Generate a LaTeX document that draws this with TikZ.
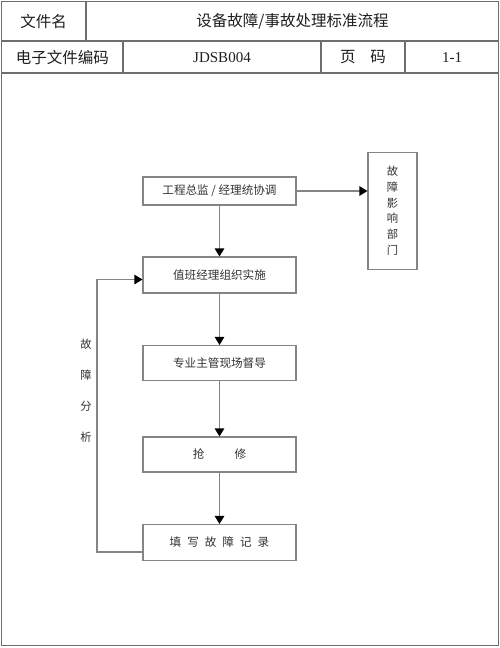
\documentclass[tikz,border=0pt]{standalone}
\usepackage{fontspec}
\setmainfont{Liberation Serif}
\newfontfamily\cjk{Noto Sans CJK SC}
\usetikzlibrary{arrows.meta}
\definecolor{hline}{HTML}{6E6E6E}
\definecolor{fline}{HTML}{858585}
\definecolor{ftext}{HTML}{333333}
\tikzset{
  hdr/.style={text=black!88, inner sep=0pt},
  hcj/.style={hdr, font=\cjk\fontsize{15.5}{18}\selectfont},
  hrm/.style={hdr, font=\fontsize{15}{18}\selectfont},
  fbox/.style={draw=fline, line width=1.1pt, minimum width=153pt, inner sep=0pt, text=ftext,
    font=\cjk\fontsize{11.6}{13}\selectfont},
  conn/.style={draw=fline, line width=1.1pt},
  arr/.style={conn, -{Triangle[width=9.5pt,length=8pt,color=black]}},
}
\begin{document}
\begin{tikzpicture}[x=1pt,y=-1pt]
\useasboundingbox (0,0) rectangle (500,648);
\fill[white] (0,0) rectangle (500,648);
% header frame
\draw[hline, line width=1.3pt] (1.5,1.5) rectangle (498.5,645.5);
\draw[hline, line width=1.3pt] (1.5,41) -- (498.5,41);
\draw[hline, line width=1.3pt] (1.5,73) -- (498.5,73);
\draw[hline, line width=1.3pt] (86,1.5) -- (86,41);
\draw[hline, line width=1.3pt] (123,41) -- (123,73);
\draw[hline, line width=1.3pt] (321,41) -- (321,73);
\draw[hline, line width=1.3pt] (405,41) -- (405,73);
% header texts
\node[hcj] (h1) at (43.5,21.5) {文件名};
\node[hcj] (h2) at (292.5,21.5) {设备故障/事故处理标准流程};
\node[hcj] (h3) at (62.5,57.5) {电子文件编码};
\node[hrm] (h4) at (222,57.5) {JDSB004};
\node[hcj] (h5) at (363,57.5) {页\hspace{15pt}码};
\node[hrm] (h6) at (452,57.5) {1-1};
% flowchart boxes
\node[fbox, minimum height=28pt] (b1) at (219.5,191) {工程总监 / 经理统协调};
\node[fbox, minimum height=36pt] (b2) at (219.5,275) {值班经理组织实施};
\node[fbox, minimum height=35pt] (b3) at (219.5,363) {专业主管现场督导};
\node[fbox, minimum height=35pt] (b4) at (219.5,454.5) {抢\hspace{30pt}修};
\node[fbox, minimum height=36pt] (b5) at (219.5,542.5) {填\hspace{6pt}写\hspace{6pt}故\hspace{6pt}障\hspace{6pt}记\hspace{6pt}录};
\node[draw=fline, line width=1.1pt, minimum width=49pt, minimum height=117pt, inner sep=0pt,
  text=ftext, align=center, font=\cjk\fontsize{11.3}{15.7}\selectfont] (r) at (392.5,210.8)
  {故\\障\\影\\响\\部\\门};
\node[text=ftext, align=center, inner sep=0pt, font=\cjk\fontsize{11.3}{31}\selectfont] (lab) at (86,390.5)
  {故\\障\\分\\析};
% connectors
\draw[arr] (b1.east) -- (r.west |- b1.east);
\draw[arr] (b1.south) -- (b2.north);
\draw[arr] (b2.south) -- (b3.north);
\draw[arr] (b3.south) -- (b4.north);
\draw[arr] (b4.south) -- (b5.north);
\coordinate (l1) at (97,552);
\coordinate (l2) at (97,279.5);
\draw[arr] (b5.west |- l1) -- (l1) -- (l2) -- (b2.west |- l2);
\end{tikzpicture}
\end{document}
